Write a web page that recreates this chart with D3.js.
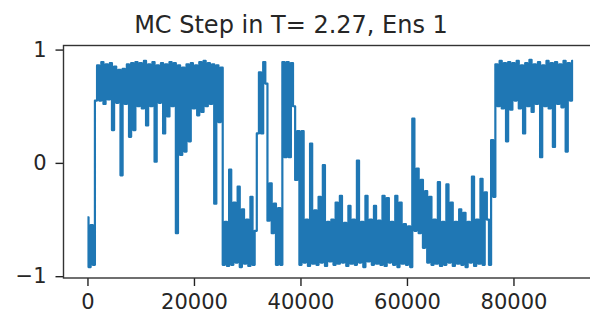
<!DOCTYPE html>
<html>
<head>
<meta charset="utf-8">
<script src="https://cdn.jsdelivr.net/npm/d3@7"></script>
<style>
  html, body { margin: 0; padding: 0; background: #fff; }
  #chart { width: 590px; height: 322px; overflow: hidden; }
  text { font-family: "DejaVu Sans", sans-serif; fill: #262626; }
</style>
</head>
<body>
<div id="chart"></div>
<script>
const kWidth = 590;
const kHeight = 322;

const chartTitle = "MC Step in T= 2.27, Ens 1";

// magnetization, one value every stepEvery MC steps
const stepEvery = 400;
const magnetization = [
  -0.48, -0.92, -0.55, -0.9, 0.55, 0.86, 0.55, 0.89, 0.52, 0.87,
  0.56, 0.88, 0.29, 0.85, 0.53, 0.82, -0.11, 0.83, 0.52, 0.87,
  0.23, 0.88, 0.29, 0.89, 0.5, 0.88, 0.48, 0.9, 0.33, 0.87,
  0.5, 0.89, 0.01, 0.86, 0.53, 0.88, 0.26, 0.87, 0.41, 0.89,
  0.5, 0.88, -0.62, 0.86, 0.07, 0.84, 0.1, 0.87, 0.19, 0.88,
  0.48, 0.86, 0.42, 0.89, 0.45, 0.9, 0.5, 0.88, 0.52, 0.87,
  -0.36, 0.86, 0.36, 0.84, -0.9, -0.52, -0.91, -0.06, -0.9, -0.35,
  -0.88, -0.21, -0.92, -0.41, -0.89, -0.5, -0.91, -0.3, -0.9, -0.6,
  0.26, 0.8, 0.26, 0.89, 0.7, -0.51, -0.18, -0.62, -0.36, -0.9,
  -0.4, -0.9, 0.89, 0.05, 0.89, 0.05, 0.88, 0.5, -0.15, 0.28,
  -0.9, 0.28, -0.88, -0.5, -0.91, 0.17, -0.89, -0.42, -0.9, -0.3,
  -0.88, -0.02, -0.91, -0.52, -0.87, -0.5, -0.9, -0.35, -0.89, -0.29,
  -0.88, -0.53, -0.91, -0.38, -0.89, -0.5, -0.9, 0.02, -0.88, -0.52,
  -0.92, -0.29, -0.87, -0.5, -0.9, -0.38, -0.89, -0.51, -0.9, -0.29,
  -0.91, -0.31, -0.88, -0.52, -0.9, -0.29, -0.92, -0.35, -0.89, -0.54,
  -0.9, -0.56, -0.92, 0.39, -0.6, -0.05, -0.62, -0.15, -0.75, -0.25,
  -0.88, -0.3, -0.9, -0.5, -0.89, -0.17, -0.91, -0.52, -0.9, -0.19,
  -0.88, -0.35, -0.91, -0.52, -0.89, -0.41, -0.9, -0.44, -0.92, -0.52,
  -0.88, -0.12, -0.91, -0.5, -0.89, -0.14, -0.9, -0.26, -0.5, -0.9,
  0.2, -0.3, 0.87, 0.5, 0.9, 0.48, 0.88, 0.19, 0.89, 0.47,
  0.88, 0.55, 0.9, 0.48, 0.86, 0.26, 0.88, 0.5, 0.91, 0.45,
  0.87, 0.52, 0.89, 0.05, 0.86, 0.5, 0.9, 0.48, 0.88, 0.14,
  0.89, 0.52, 0.87, 0.49, 0.9, 0.1, 0.88, 0.55, 0.9
];

const xTicks = [0, 20000, 40000, 60000, 80000];
const yTicks = [-1, 0, 1];

const plot = { left: 63.5, top: 45.5, right: 596, bottom: 278 };

function createSvg()
{
  return d3.select("#chart")
    .append("svg")
    .attr("width", kWidth)
    .attr("height", kHeight);
}

function draw(svg)
{
  const xScale = d3.scaleLinear()
    .domain([-4500, 95500])
    .range([plot.left, plot.right]);

  const yScale = d3.scaleLinear()
    .domain([-1.016, 1.036])
    .range([plot.bottom, plot.top]);

  // the trace is so dense that it reads as a band; a step curve fills it
  const line = d3.line()
    .x((d, i) => xScale(i * stepEvery))
    .y(d => yScale(d))
    .curve(d3.curveStep);

  svg.append("path")
    .datum(magnetization)
    .attr("fill", "none")
    .attr("stroke", "#1f77b4")
    .attr("stroke-width", 2.2)
    .attr("stroke-linejoin", "round")
    .attr("d", line);

  const xAxis = d3.axisBottom(xScale)
    .tickValues(xTicks)
    .tickFormat(d3.format("d"))
    .tickSizeInner(8)
    .tickSizeOuter(0)
    .tickPadding(8);

  const yAxis = d3.axisLeft(yScale)
    .tickValues(yTicks)
    .tickFormat(d => d < 0 ? "\u2212" + Math.abs(d) : d)
    .tickSizeInner(8)
    .tickSizeOuter(0)
    .tickPadding(9);

  const gx = svg.append("g")
    .attr("transform", `translate(0, ${plot.bottom})`)
    .call(xAxis);

  const gy = svg.append("g")
    .attr("transform", `translate(${plot.left}, 0)`)
    .call(yAxis);

  [gx, gy].forEach(g => {
    g.select(".domain").remove();
    g.selectAll(".tick line").attr("stroke", "#222").attr("stroke-width", 1.4);
    g.selectAll(".tick text")
      .attr("fill", "#262626")
      .style("font-size", "21px")
      .style("font-family", "'DejaVu Sans', sans-serif");
  });

  // frame around the plot
  svg.append("rect")
    .attr("x", plot.left)
    .attr("y", plot.top)
    .attr("width", plot.right - plot.left)
    .attr("height", plot.bottom - plot.top)
    .attr("fill", "none")
    .attr("stroke", "#333")
    .attr("stroke-width", 1.4);

  svg.append("text")
    .attr("x", 291)
    .attr("y", 32.5)
    .attr("text-anchor", "middle")
    .style("font-size", "24px")
    .text(chartTitle);
}

document.addEventListener("DOMContentLoaded", () => {
  const svg = createSvg();
  draw(svg);
});
</script>
</body>
</html>
